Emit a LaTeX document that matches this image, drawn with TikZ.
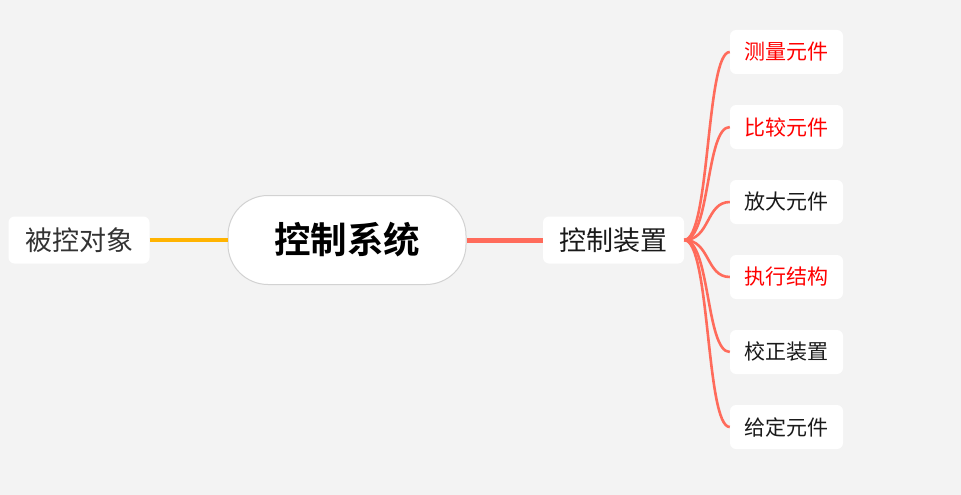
\documentclass[tikz,border=0pt]{standalone}
\usepackage{fontspec}
\newfontfamily\cjk{Noto Sans CJK SC}
\newfontfamily\cjkb{Noto Sans CJK SC Bold}
\definecolor{bgc}{HTML}{F3F3F3}
\definecolor{branch}{HTML}{FF6B5B}
\definecolor{gold}{HTML}{FFB300}
\definecolor{txt}{HTML}{1A1A1A}
\definecolor{redtxt}{HTML}{FF0000}
\tikzset{
  leaf/.style={fill=white, rounded corners=6pt, minimum width=113pt, minimum height=44pt, inner sep=0pt, font=\cjk\fontsize{21}{24}\selectfont, text=txt},
  mid/.style={fill=white, rounded corners=6pt, minimum width=141pt, minimum height=47pt, inner sep=0pt, font=\cjk\fontsize{27}{30}\selectfont, text=txt},
  rootbox/.style={fill=white, draw={rgb,255:red,210;green,210;blue,210}, line width=1pt, rounded corners=40pt, minimum width=238pt, minimum height=89pt, inner sep=0pt, font=\cjkb\fontsize{36.5}{40}\selectfont, text=black},
  twig/.style={draw=branch, line width=2.6pt},
}
\begin{document}
\begin{tikzpicture}[x=1pt,y=-1pt]
\fill[bgc] (0,0) rectangle (961,495);
\useasboundingbox (0,0) rectangle (961,495);
\node[rootbox] (root) at (347,240) {控制系统};
\node[mid, text={rgb,255:red,51;green,51;blue,51}] (obj) at (79,240) {被控对象};
\node[mid] (dev) at (613.5,240) {控制装置};
\draw[draw=gold, line width=4pt] (obj.east) -- (root.west);
\draw[draw=branch, line width=5pt] (root.east) -- (dev.west);
\node[leaf, text=redtxt] (c1) at (786.5,52) {测量元件};
\node[leaf, text=redtxt] (c2) at (786.5,127) {比较元件};
\node[leaf] (c3) at (786.5,202) {放大元件};
\node[leaf, text=redtxt] (c4) at (786.5,277) {执行结构};
\node[leaf] (c5) at (786.5,352) {校正装置};
\node[leaf] (c6) at (786.5,427) {给定元件};
\foreach \c in {c1,c2,c3,c4,c5,c6}{
  \draw[twig] (dev.east) .. controls ([xshift=26pt]dev.east) and ([xshift=-24pt]\c.west) .. (\c.west);
}
\end{tikzpicture}
\end{document}
